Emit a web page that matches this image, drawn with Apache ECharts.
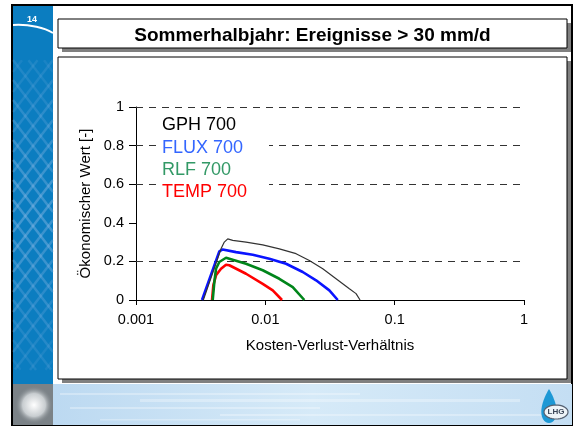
<!DOCTYPE html>
<html><head><meta charset="utf-8">
<script src="https://cdn.jsdelivr.net/npm/echarts@6/dist/echarts.min.js"></script>
<style>html,body{margin:0;padding:0;background:#fff}#c{width:573px;height:426px}</style>
</head><body><div id="c"></div>
<script>
// ---- data ----
const titleText = 'Sommerhalbjahr: Ereignisse > 30 mm/d';
const slideNo = '14';
const xName = 'Kosten-Verlust-Verhältnis';
const yName = 'Ökonomischer Wert [-]';
const xTicks = [0.001, 0.01, 0.1, 1];
const xTickLabels = ['0.001', '0.01', '0.1', '1'];
const gridValues = [0.2, 0.6, 0.8, 1];
const seriesNames = ['GPH 700', 'FLUX 700', 'RLF 700', 'TEMP 700'];
const gph = [[0.003315,0],[0.004543,0.265],[0.004818,0.30],[0.005119,0.317],[0.005597,0.309],[0.007091,0.30],[0.009548,0.286],[0.01283,0.265],[0.01728,0.24],[0.02189,0.205],[0.02779,0.162],[0.03522,0.11],[0.04464,0.058],[0.05028,0.033],[0.054,0]];
const flux = [[0.003239,0],[0.004407,0.252],[0.004682,0.262],[0.005935,0.248],[0.007991,0.234],[0.01074,0.214],[0.01446,0.188],[0.01946,0.145],[0.02467,0.102],[0.03126,0.05],[0.03631,0]];
const rlf = [[0.003919,0],[0.004033,0.093],[0.004156,0.162],[0.004407,0.197],[0.004967,0.219],[0.005267,0.214],[0.007091,0.188],[0.009548,0.154],[0.01283,0.11],[0.01629,0.067],[0.02002,0]];
const temp = [[0.003871,0],[0.003961,0.076],[0.004156,0.128],[0.004543,0.162],[0.004967,0.183],[0.005267,0.18],[0.007091,0.136],[0.009548,0.084],[0.01141,0.05],[0.01346,0]];

const FONT = '"Liberation Sans", Arial, sans-serif';
const chart = echarts.init(document.getElementById('c'), null, {renderer: 'canvas'});

// ---- decoration (slide frame) ----
const deco = [];
deco.push({type:'rect', z:-20, shape:{x:12,y:5,width:560,height:420}, style:{fill:'#fff', stroke:'#000', lineWidth:2}});
deco.push({type:'rect', z:-19, shape:{x:13,y:6,width:40,height:378}, style:{fill:'#0b7dc0'}});
// lattice on left strip
(function(){
  const x0=13,x1=53,y0=60,y1=370, k=1.3, step=20;
  for (let c=-120;c<420;c+=step){
    [1,-1].forEach(function(s){
      let pts=[];
      for (let xx=x0; xx<=x1; xx+=0.5){
        const yy = (s>0? c + k*(xx-x0) : c + k*(x1-xx)) + y0;
        if (yy>=y0 && yy<=y1) pts.push([xx,yy]);
      }
      if (pts.length>1){
        const mid=(pts[0][1]+pts[pts.length-1][1])/2;
        const fade = Math.max(0, 1-Math.abs(mid-215)/160);
        deco.push({type:'polyline', z:-18, shape:{points:[pts[0],pts[pts.length-1]]}, style:{stroke:'rgba(140,185,230,'+(0.1+0.35*fade).toFixed(2)+')', lineWidth:2.5}});
      }
    });
  }
})();
deco.push({type:'bezierCurve', z:-17, shape:{x1:13,y1:25,x2:53,y2:33,cpx1:30,cpy1:24,cpx2:45,cpy2:28}, style:{stroke:'#ffffff', lineWidth:2, fill:null}});
deco.push({type:'text', z:-16, style:{x:32,y:20,text:slideNo,fill:'#fff',font:'bold 9px '+FONT,align:'center',verticalAlign:'middle'}});
// bottom strip
deco.push({type:'rect', z:-19, shape:{x:53,y:384,width:519,height:41}, style:{fill:new echarts.graphic.LinearGradient(0,0,1,0,[{offset:0,color:'#bcd9f1'},{offset:0.5,color:'#d6eaf8'},{offset:1,color:'#c4def3'}])}});
[[60,393,300,2],[140,399,380,3],[70,407,250,2],[220,414,330,2],[100,419,200,1.5]].forEach(function(r){
  deco.push({type:'rect', z:-18, shape:{x:r[0],y:r[1],width:r[2],height:r[3]}, style:{fill:'rgba(255,255,255,0.3)'}});
});
deco.push({type:'rect', z:-19, shape:{x:13,y:384,width:40,height:41}, style:{fill:'#7b8287'}});
deco.push({type:'circle', z:-18, shape:{cx:34,cy:405,r:19}, style:{fill:new echarts.graphic.RadialGradient(0.5,0.5,0.5,[{offset:0,color:'#ffffff'},{offset:0.6,color:'#c8cdd0'},{offset:1,color:'rgba(123,130,135,0)'}])}});
// logo: drop + oval
(function(){
  const drop=[];
  for (let a=0;a<=360;a+=10){
    const t=a*Math.PI/180;
    drop.push([549 + 10*Math.sin(t)*Math.sin(t/2), 389 + 34*(1-Math.cos(t))/2]);
  }
  deco.push({type:'polygon', z:-17, shape:{points:drop}, style:{fill:'#1d98d5'}});
  const ov=[];
  for (let a=0;a<360;a+=10){const t=a*Math.PI/180; ov.push([556+12*Math.cos(t), 412+7*Math.sin(t)]);}
  deco.push({type:'polygon', z:-16, shape:{points:ov}, style:{fill:'#eef4f8', stroke:'#556070', lineWidth:1.2}});
})();
deco.push({type:'text', z:-15, style:{x:556,y:412,text:'LHG',fill:'#3a4658',font:'bold 8px '+FONT,align:'center',verticalAlign:'middle'}});
// title box
deco.push({type:'rect', z:-14, shape:{x:62,y:23,width:509,height:29}, style:{fill:'#808080'}});
deco.push({type:'rect', z:-13, shape:{x:58,y:19,width:509,height:29}, style:{fill:'#fff', stroke:'#000', lineWidth:1}});
deco.push({type:'text', z:-12, style:{x:312.5,y:35.5,text:titleText,fill:'#000',font:'bold 19px '+FONT,align:'center',verticalAlign:'middle'}});
// chart box
deco.push({type:'rect', z:-14, shape:{x:62,y:61,width:509,height:322}, style:{fill:'#808080'}});
deco.push({type:'rect', z:-13, shape:{x:58,y:57,width:509,height:322}, style:{fill:'#fff', stroke:'#000', lineWidth:1}});
// legend text box
const legendColors = ['#000000','#3366ff','#339966','#ff0000'];
deco.push({type:'rect', z:50, shape:{x:157,y:114,width:112,height:88}, style:{fill:'#fff'}});
seriesNames.forEach(function(n,i){
  deco.push({type:'text', z:51, style:{x:162,y:125.5+i*22.3,text:n,fill:legendColors[i],font:'18px '+FONT,align:'left',verticalAlign:'middle'}});
});

const lineColors = ['#333333','#0a14ff','#00851a','#ff0000'];
const lineWidths = [1.2, 2.6, 2.6, 2.6];
const datas = [gph, flux, rlf, temp];
const series = [];
[3,2,1,0].forEach(function(i){
  const s = {type:'line', name:seriesNames[i], data:datas[i], showSymbol:false, symbol:'none', smooth:false, silent:true,
    lineStyle:{color:lineColors[i], width:lineWidths[i]}, z:10+(3-i)};
  if (i===0){
    s.markLine = {silent:true, symbol:['none','none'], label:{show:false}, animation:false,
      lineStyle:{color:'#333', width:1, type:[7,6]}, data: gridValues.map(function(v){return {yAxis:v};})};
  }
  series.push(s);
});

chart.setOption({
  animation:false,
  backgroundColor:'#fff',
  grid:{left:136, right:49, top:107, bottom:126, containLabel:false},
  xAxis:{type:'log', logBase:10, min:xTicks[0], max:xTicks[xTicks.length-1],
    name:xName, nameLocation:'middle', nameGap:38, nameTextStyle:{fontFamily:FONT, fontSize:15, color:'#000'},
    axisLine:{lineStyle:{color:'#000', width:1}}, axisTick:{show:true, length:5, lineStyle:{color:'#000'}},
    splitLine:{show:false}, minorTick:{show:false},
    axisLabel:{fontFamily:FONT, fontSize:14.5, color:'#000', margin:12,
      formatter:function(v){ const idx = xTicks.findIndex(function(t){return Math.abs(Math.log10(t)-Math.log10(v))<1e-6;}); return idx>=0? xTickLabels[idx] : ''; }}},
  yAxis:{type:'value', min:0, max:1, interval:0.2,
    name:yName, nameLocation:'middle', nameGap:42, nameRotate:90, nameTextStyle:{fontFamily:FONT, fontSize:15, color:'#000'},
    axisLine:{show:true, lineStyle:{color:'#000', width:1}}, axisTick:{show:true, length:7, lineStyle:{color:'#000'}},
    splitLine:{show:false},
    axisLabel:{fontFamily:FONT, fontSize:14.5, color:'#000', margin:12}},
  graphic:deco,
  series:series
});
</script></body></html>
